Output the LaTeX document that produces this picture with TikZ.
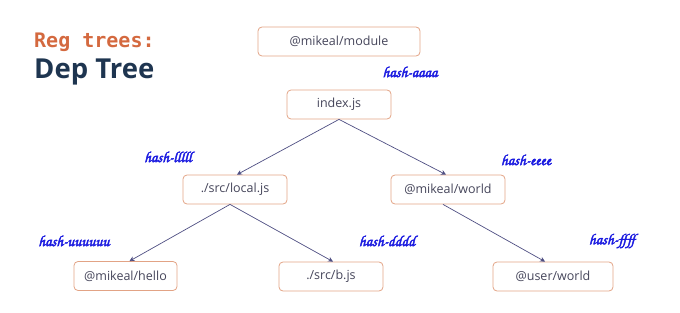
\documentclass[tikz,border=0pt]{standalone}
\usepackage{fontspec}
\setmainfont{Open Sans}
\newfontfamily\titlemono{DejaVu Sans Mono}
\newfontfamily\titlesans{Open Sans}
\newfontfamily\hashfont{texgyrechorus-mediumitalic.otf}[FakeBold=3]
\usetikzlibrary{arrows,arrows.meta}

\definecolor{boxline}{HTML}{E2A385}
\definecolor{boxtext}{HTML}{45455A}
\definecolor{edgeline}{HTML}{4E4E82}
\definecolor{hashblue}{HTML}{1C1CE0}
\definecolor{regorange}{HTML}{D4693F}
\definecolor{depnavy}{HTML}{1E3550}

\begin{document}
\begin{tikzpicture}[x=1pt,y=-1pt,
pkg/.style={draw=boxline,line width=0.8pt,rounded corners=4pt,text=boxtext,font=\fontsize{12.5}{14}\selectfont,minimum height=29pt,inner sep=0pt},
hash/.style={text=hashblue,font=\hashfont\bfseries\fontsize{15.3}{17}\selectfont,inner sep=0pt},
arrow/.style={-{Stealth[length=5pt,width=5pt]},draw=edgeline,line width=0.7pt} ]

\useasboundingbox (0,0) rectangle (680,313);

\node[anchor=base west,text=regorange,font=\titlemono\fontsize{20}{22}\selectfont\bfseries,inner sep=0pt] (reg) at (34,48) {Reg trees:};

\node[anchor=base west,text=depnavy,font=\titlesans\fontsize{27.5}{30}\selectfont\bfseries,inner sep=0pt] (dep) at (34,78) {Dep Tree};

\node[pkg,minimum width=162pt] (module) at (339,41.5) {@mikeal/module};

\node[pkg,minimum width=104pt] (index) at (339,104.5) {index.js};

\node[pkg,minimum width=104pt] (local) at (235,189.5) {./src/local.js};

\node[pkg,minimum width=114pt] (world) at (448,189.5) {@mikeal/world};

\node[pkg,minimum width=103pt] (hello) at (125.5,276) {@mikeal/hello};

\node[pkg,minimum width=104pt] (bjs) at (331,276.5) {./src/b.js};

\node[pkg,minimum width=120pt] (user) at (553,276.5) {@user/world};

\node[hash] (ha) at (410,72) {hash-aaaa};

\node[hash] (hl) at (168,157) {hash-lllll};

\node[hash] (he) at (526,160) {hash-eeee};

\node[hash] (hu) at (74,241) {hash-uuuuuu};

\node[hash] (hd) at (387,241) {hash-dddd};

\node[hash] (hf) at (612,241) {hash-ffff};

\draw[arrow] (index.south) -- ([xshift=2pt]local.north);

\draw[arrow] (index.south) -- ([xshift=-2pt]world.north);

\draw[arrow] ([xshift=-5pt]local.south) -- ([xshift=4pt]hello.north);

\draw[arrow] ([xshift=-5pt]local.south) -- ([xshift=2pt]bjs.north);

\draw[arrow] ([xshift=-5pt]world.south) -- ([xshift=-8pt]user.north);

\end{tikzpicture}
\end{document}
